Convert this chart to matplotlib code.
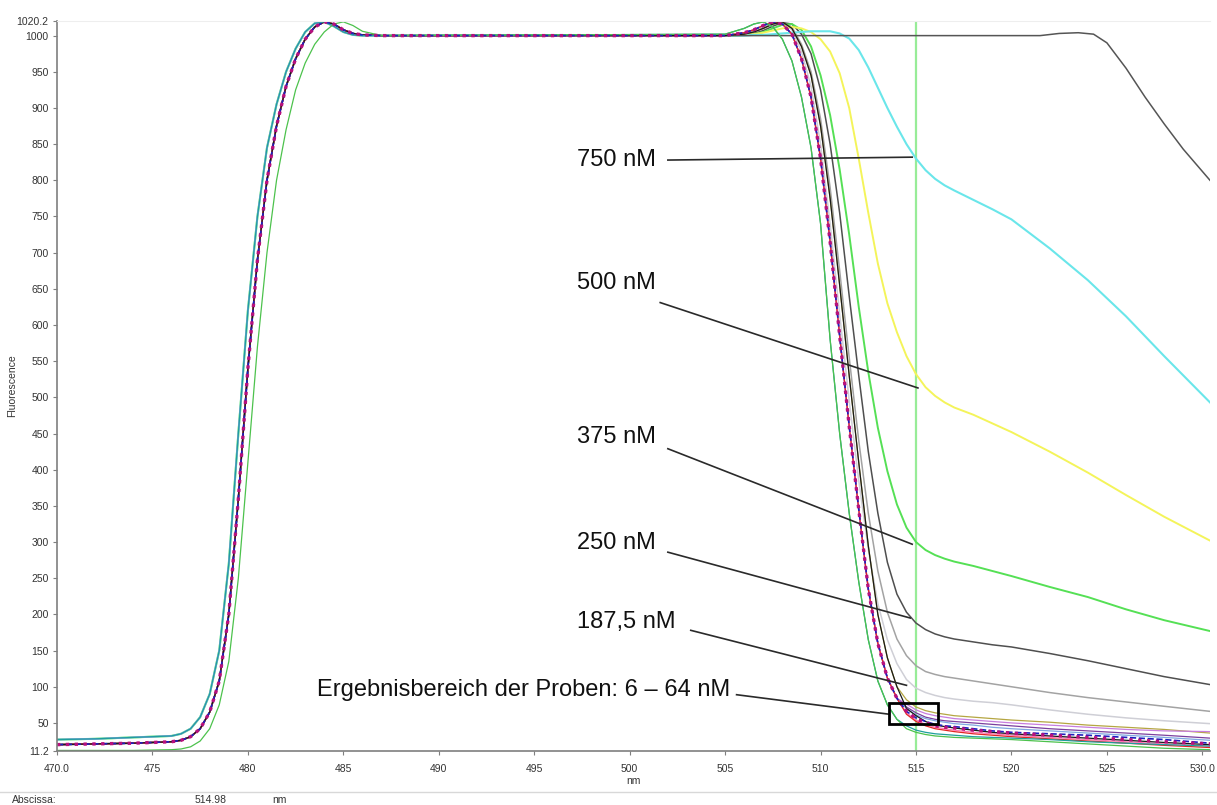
import matplotlib
matplotlib.use("Agg")
import matplotlib.pyplot as plt
from matplotlib.patches import Rectangle
from matplotlib.lines import Line2D

plt.rcParams["font.family"] = ["Liberation Sans", "DejaVu Sans"]

# --- Daten --------------------------------------------------------------
# Anstiegsflanke, gemeinsame Wellenlängen [nm]
rise_x = [470, 472, 474, 476, 476.5, 477, 477.5, 478, 478.5, 479, 479.5, 480,
          480.5, 481, 481.5, 482, 482.5, 483, 483.5, 484, 484.5, 485, 485.5, 486, 487]
rise_early = [27, 28, 30, 32, 35, 42, 58, 90, 150, 270, 450, 620,
              750, 845, 905, 950, 982, 1005, 1017, 1019, 1013, 1005, 1001, 1000, 1000]
rise_main = [20, 21, 22, 24, 26, 31, 42, 65, 108, 200, 360, 540,
             690, 800, 875, 930, 968, 995, 1012, 1019, 1016, 1008, 1003, 1001, 1000]
rise_late = [12, 12, 12, 13, 14, 17, 25, 42, 75, 135, 250, 410,
             570, 700, 800, 870, 925, 962, 988, 1005, 1016, 1019, 1014, 1006, 1000]

# Abfallende Flanke
head_x = [505, 506, 506.5, 507, 507.5, 508, 508.5, 509, 509.5, 510, 510.5, 511,
          511.5, 512, 512.5, 513, 513.5, 514]
head_early = [1002, 1010, 1016, 1019, 1012, 995, 965, 915, 845, 740, 580, 450,
              340, 245, 165, 108, 75, 55]
head_main = [1000, 1004, 1008, 1014, 1019, 1016, 1002, 968, 915, 830, 715, 585,
             460, 345, 235, 160, 112, 84]
head_late = [1000, 1002, 1005, 1010, 1016, 1019, 1010, 985, 945, 875, 775, 655,
             530, 410, 295, 200, 140, 100]

tail_x = [514.5, 515, 515.5, 516, 516.5, 517, 518, 519, 520, 522, 524, 526, 528, 530.4]
tail_olive = [82, 72, 67, 64, 62, 60, 58, 56, 54, 51, 47, 44, 41, 36]
tail_violet = [76, 68, 63, 60, 58, 56, 54, 52, 50, 47, 44, 41, 39, 38]
tail_purple = [72, 64, 58, 55, 53, 52, 50, 48, 46, 42, 39, 36, 33, 29]
tail_lightblue = [70, 61, 56, 53, 51, 49, 47, 44, 42, 39, 36, 33, 30, 26]
tail_blue = [66, 57, 52, 48, 46, 45, 42, 39, 37, 35, 33, 30, 27, 22]
tail_pink = [64, 54, 48, 44, 42, 40, 37, 35, 33, 30, 27, 24, 21, 18]
tail_red = [62, 52, 46, 42, 40, 38, 35, 33, 31, 28, 25, 22, 19, 16]
tail_black = [70, 60, 52, 47, 45, 43, 40, 37, 35, 32, 29, 26, 23, 20]
tail_teal = [46, 40, 37, 35, 34, 33, 31, 30, 29, 27, 24, 22, 20, 18]
tail_green = [42, 37, 34, 32, 31, 30, 29, 28, 27, 24, 21, 18, 15, 13]
tail_magenta = [66, 56, 50, 46, 44, 43, 40, 38, 36, 33, 30, 27, 24, 21]

# Kurven der Kalibrierlösungen (Werte auf head_x + tail_x)
fall_x = head_x + tail_x
fall_lightgray = [1000, 1003, 1006, 1012, 1017, 1018, 1008, 978, 930, 850, 740, 615,
                  495, 385, 290, 215, 165, 132,
                  110, 98, 92, 88, 85, 83, 80, 78, 75, 68, 62, 57, 53, 49]
fall_gray = [1000, 1002, 1005, 1010, 1016, 1019, 1012, 988, 950, 885, 790, 675,
             555, 440, 340, 260, 203, 166,
             143, 129, 121, 117, 114, 112, 108, 104, 100, 92, 85, 79, 73, 66]
fall_250 = [1000, 1001, 1003, 1007, 1013, 1018, 1016, 1002, 975, 925, 850, 755,
            640, 530, 425, 340, 272, 228,
            203, 188, 179, 173, 169, 166, 162, 158, 155, 146, 136, 125, 114, 103]
fall_375 = [1000, 1001, 1002, 1005, 1010, 1015, 1016, 1008, 985, 945, 890, 815,
            725, 625, 535, 458, 398, 352,
            320, 300, 289, 282, 277, 273, 267, 260, 253, 238, 224, 207, 192, 177]
fall_500 = [1000, 1001, 1002, 1004, 1007, 1010, 1012, 1010, 1005, 995, 978, 948,
            900, 830, 755, 685, 630, 590,
            557, 532, 514, 502, 493, 486, 476, 464, 452, 425, 396, 365, 335, 302]
fall_750 = [1000, 1000, 1001, 1001, 1002, 1003, 1004, 1005, 1006, 1006, 1006, 1003,
            996, 980, 956, 928, 900, 874,
            850, 830, 814, 802, 793, 786, 773, 760, 746, 706, 662, 612, 557, 493]

top_x = [505, 520, 521.5, 522.5, 523.5, 524.3, 525, 526, 527, 528, 529, 530.4]
top_y = [1000, 1000, 1000, 1003, 1004, 1002, 990, 955, 915, 878, 843, 800]

x_ticks = [470, 475, 480, 485, 490, 495, 500, 505, 510, 515, 520, 525, 530]
x_ticklabels = ["470.0", "475", "480", "485", "490", "495", "500", "505", "510",
                "515", "520", "525", "530.0"]
y_ticks = [11.2, 50, 100, 150, 200, 250, 300, 350, 400, 450, 500, 550, 600, 650,
           700, 750, 800, 850, 900, 950, 1000, 1020.2]
y_ticklabels = ["11.2"] + [str(v) for v in y_ticks[1:-1]] + ["1020.2"]

# --- Plot -----------------------------------------------------------------
W, H = 1217, 805
fig = plt.figure(figsize=(W / 100, H / 100), dpi=100)
ax = fig.add_axes([57 / W, 1 - 751 / H, (1210 - 57) / W, (751 - 21) / H])

# einzelne Konzentrationskurven
single = [
    (rise_main, fall_lightgray, "#cfcfd6", 1.1),
    (rise_main, fall_gray, "#a3a3a3", 1.1),
    (rise_main, fall_250, "#4f4f4f", 1.1),
    (rise_early, fall_375, "#55e055", 1.4),
    (rise_early, fall_500, "#f4f45a", 1.4),
    (rise_early, fall_750, "#6ae6ea", 1.5),
]
for rise, fall, col, lw in single:
    ax.plot(rise_x + fall_x, rise + fall, color=col, lw=lw)

ax.plot(rise_x + top_x, rise_main + top_y, color="#555555", lw=1.1)

# Kurvenbündel der Proben
bundle = [
    (rise_main, head_late, tail_olive, "#b5a642", "-", 0.9),
    (rise_early, head_main, tail_violet, "#c77dde", "-", 0.9),
    (rise_main, head_main, tail_purple, "#7b3f9e", "-", 0.9),
    (rise_early, head_main, tail_lightblue, "#7fa7e0", "-", 0.9),
    (rise_main, head_main, tail_pink, "#ff77b4", "-", 0.9),
    (rise_main, head_main, tail_red, "#e32424", "-", 0.9),
    (rise_main, head_late, tail_black, "#1a1a1a", "-", 0.9),
    (rise_early, head_early, tail_teal, "#1f9e9e", "-", 0.9),
    (rise_late, head_early, tail_green, "#4cc24c", "-", 0.9),
    (rise_main, head_main, tail_blue, "#1f1fbf", "--", 1.2),
    (rise_main, head_main, tail_magenta, "#b8107c", ":", 2.4),
]
for rise, head, tail, col, ls, lw in bundle:
    ax.plot(rise_x + fall_x, rise + head + tail, color=col, ls=ls, lw=lw)

ax.axvline(515, color="#98ec98", lw=1.6, zorder=1)

# Beschriftungen mit Hinweislinien
labels = [
    ("750 nM", (497.25, 828), (502.0, 828), (514.8, 832)),
    ("500 nM", (497.25, 658), (501.6, 631), (515.1, 513)),
    ("375 nM", (497.25, 445), (502.0, 429), (514.8, 297)),
    ("250 nM", (497.25, 299), (502.0, 286), (514.7, 195)),
    ("187,5 nM", (497.25, 190), (503.2, 178), (514.5, 102)),
    ("Ergebnisbereich der Proben: 6 \u2013 64 nM", (483.6, 96), (505.6, 89), (513.6, 62)),
]
for txt, pos, p0, p1 in labels:
    ax.text(pos[0], pos[1], txt, fontsize=17, ha="left", va="center", color="#111111")
    ax.plot([p0[0], p1[0]], [p0[1], p1[1]], color="#2a2a2a", lw=1.2)

ax.add_patch(Rectangle((513.6, 48.5), 2.57, 29.1, fill=False, lw=2, ec="black", zorder=5))

ax.set_xlim(470, 530.4)
ax.set_ylim(11.2, 1020.2)
ax.set_xticks(x_ticks)
ax.set_xticklabels(x_ticklabels)
ax.set_yticks(y_ticks)
ax.set_yticklabels(y_ticklabels)
ax.tick_params(labelsize=7.5, labelcolor="#333333", color="#7f7f7f", length=3, width=0.8)
ax.tick_params(axis="x", pad=6)
ax.tick_params(axis="y", pad=3)

for side in ("left", "bottom"):
    ax.spines[side].set_color("#7f7f7f")
    ax.spines[side].set_linewidth(1.2)
ax.spines["top"].set_color("#eeeeee")
ax.spines["top"].set_linewidth(0.8)
ax.spines["right"].set_visible(False)

ax.set_xlabel("nm", fontsize=7.5, color="#333333")
ax.xaxis.set_label_coords(0.5, -0.034)
ax.set_ylabel("Fluorescence", fontsize=7.5, color="#333333")
ax.yaxis.set_label_coords(-0.035, 0.5)

# Statuszeile unten
fig.add_artist(Line2D([0, 1], [1 - 792 / H, 1 - 792 / H], color="#d8d8d8", lw=1))
fig.text(12 / W, 1 - 800 / H, "Abscissa:", fontsize=7.5, color="#333333", va="center")
fig.text(195 / W, 1 - 800 / H, "514.98", fontsize=7.5, color="#333333", va="center")
fig.text(272 / W, 1 - 800 / H, "nm", fontsize=7.5, color="#333333", va="center")

fig.savefig("out.png", dpi=100)
